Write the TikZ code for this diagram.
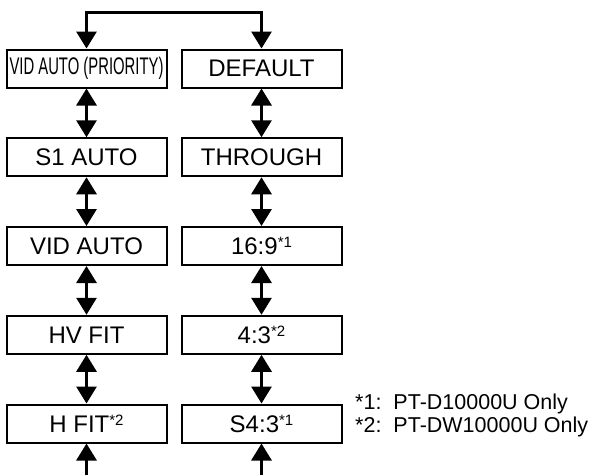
\documentclass[tikz,border=0pt]{standalone}
\usepackage{fontspec}
\usepackage{graphicx}
\setmainfont{Liberation Sans}
\usetikzlibrary{arrows.meta}
\newcommand{\fnmark}[1]{{\fontsize{15}{15}\selectfont\raisebox{7pt}{*#1}}}
\begin{document}
\begin{tikzpicture}[x=1pt,y=-1pt,
  box/.style={draw,line width=2pt,minimum width=160pt,minimum height=38pt,inner sep=0pt,
    font=\fontsize{24}{28}\selectfont},
  conn/.style={line width=3pt,{Triangle[width=20pt,length=17pt]}-{Triangle[width=20pt,length=17pt]}},
  upconn/.style={line width=3pt,-{Triangle[width=20pt,length=17pt]}},
  note/.style={anchor=base west,inner sep=0pt,font=\fontsize{21.5}{25}\selectfont}]
\useasboundingbox (0,0) rectangle (593,475);
\node[box] (l1) at (86.5,68.5) {\resizebox{154pt}{\height}{VID AUTO (PRIORITY)}};
\node[box] (l2) at (86.5,157.25) {S1 AUTO};
\node[box] (l3) at (86.5,246) {VID AUTO};
\node[box] (l4) at (86.5,334.75) {HV FIT};
\node[box] (l5) at (86.5,423.5) {H FIT\fnmark{2}};
\node[box] (r1) at (261.5,68.5) {DEFAULT};
\node[box] (r2) at (261.5,157.25) {THROUGH};
\node[box] (r3) at (261.5,246) {16:9\fnmark{1}};
\node[box] (r4) at (261.5,334.75) {4:3\fnmark{2}};
\node[box] (r5) at (261.5,423.5) {S4:3\fnmark{1}};
\coordinate (top) at (174,12);
\coordinate (lb) at (86.5,475);
\coordinate (rb) at (261.5,475);
\draw[conn] (l1.north) |- (top) -| (r1.north);
\foreach \a/\b in {l1/l2,l2/l3,l3/l4,l4/l5,r1/r2,r2/r3,r3/r4,r4/r5}
  \draw[conn] (\a.south) -- (\b.north);
\draw[upconn] (lb) -- (l5.south);
\draw[upconn] (rb) -- (r5.south);
\node[note] (n1) at (355,409) {*1:\ \ PT-D10000U Only};
\node[note] (n2) at (355,432) {*2:\ \ PT-DW10000U Only};
\end{tikzpicture}
\end{document}
